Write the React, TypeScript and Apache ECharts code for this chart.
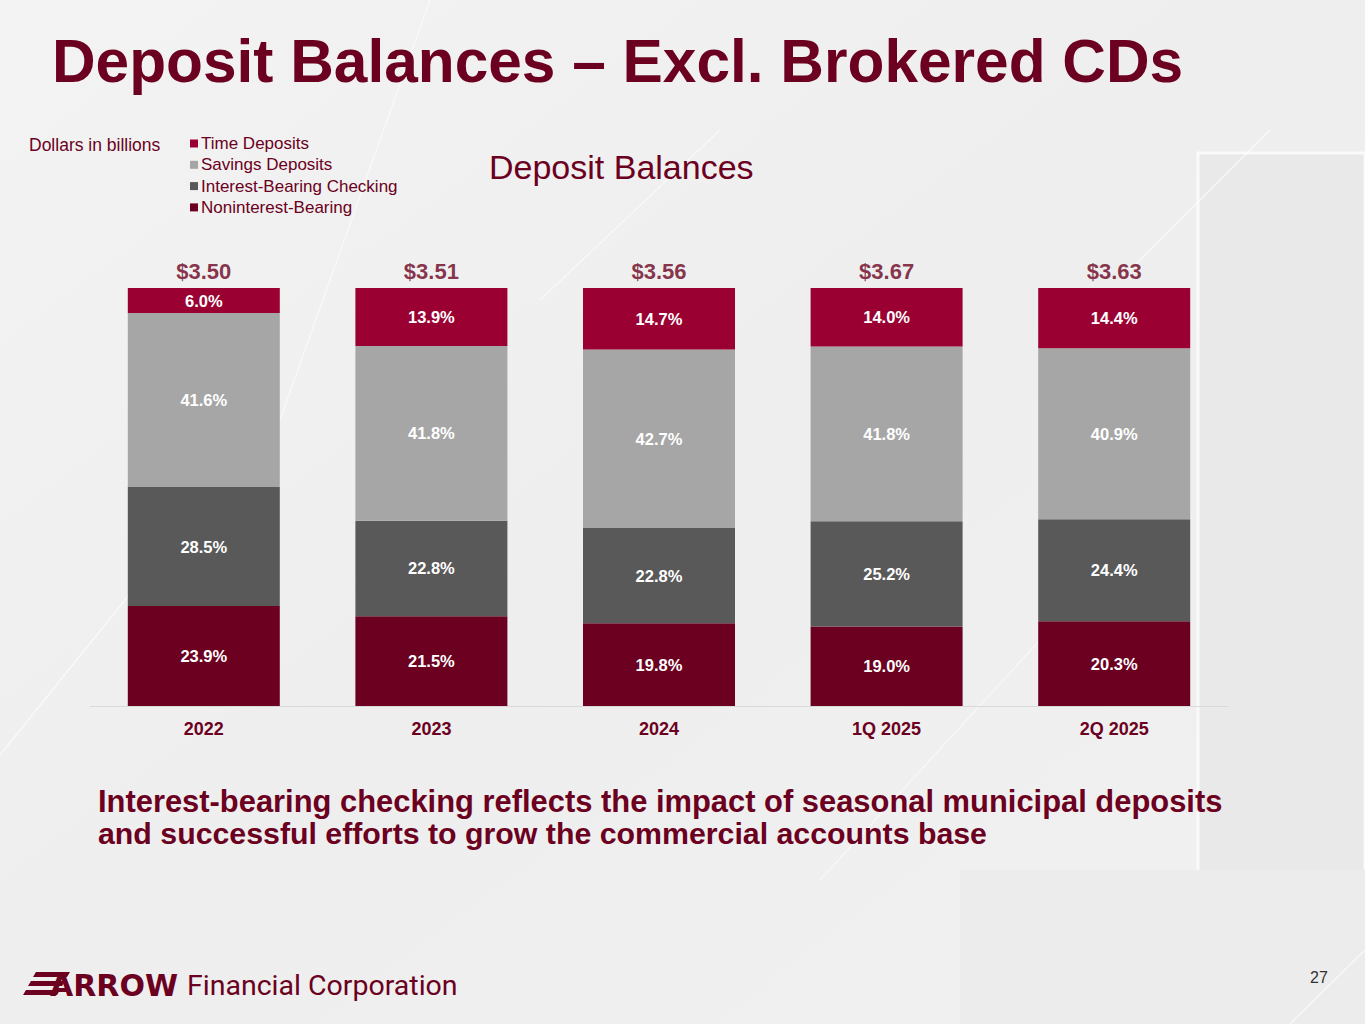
import React, { useEffect, useRef } from "react";
import * as echarts from "echarts";

const categories = ["2022", "2023", "2024", "1Q 2025", "2Q 2025"];
const totals = ["$3.50", "$3.51", "$3.56", "$3.67", "$3.63"];
const nonInterestBearing = [23.9, 21.5, 19.8, 19.0, 20.3];
const interestBearingChecking = [28.5, 22.8, 22.8, 25.2, 24.4];
const savingsDeposits = [41.6, 41.8, 42.7, 41.8, 40.9];
const timeDeposits = [6.0, 13.9, 14.7, 14.0, 14.4];
const legendNames = ["Time Deposits", "Savings Deposits", "Interest-Bearing Checking", "Noninterest-Bearing"];

const MAROON = "#6b0020";
const FONT = "'Liberation Sans', Arial, sans-serif";

export default function App() {
  const ref = useRef<HTMLDivElement>(null);
  useEffect(() => {
    if (!ref.current) return;
    const chart = echarts.init(ref.current, null, { renderer: "svg" });
    const barLabel = {
      show: true,
      position: "inside",
      color: "#ffffff",
      fontWeight: "bold",
      fontSize: 16.5,
      fontFamily: FONT,
      formatter: (p: any) => p.value.toFixed(1) + "%",
    };
    const mkBar = (name: string, data: number[], color: string) => ({
      name,
      type: "bar",
      stack: "total",
      barWidth: 152,
      data,
      itemStyle: { color },
      label: barLabel,
      emphasis: { disabled: true },
    });
    const streak = (x1: number, y1: number, x2: number, y2: number, op: number) => ({
      type: "line", silent: true, z: -8, shape: { x1, y1, x2, y2 },
      style: { stroke: "#ffffff", lineWidth: 1.5, opacity: op },
    });
    chart.setOption({
      animation: false,
      backgroundColor: "transparent",
      textStyle: { fontFamily: FONT },
      graphic: [
        // background
        { type: "rect", silent: true, z: -10, shape: { x: 0, y: 0, width: 1365, height: 1024 },
          style: { fill: new echarts.graphic.LinearGradient(0, 0, 1, 1, [
            { offset: 0, color: "#f3f3f3" }, { offset: 0.5, color: "#eeeeee" }, { offset: 1, color: "#f1f1f1" }]) } },
        { type: "rect", silent: true, z: -9, shape: { x: 1198, y: 153, width: 167, height: 720 },
          style: { fill: "#e9e9e9", stroke: "#fafafa", lineWidth: 3 } },
        { type: "polygon", silent: true, z: -9, shape: { points: [[960, 870], [1365, 870], [1365, 1024], [960, 1024]] },
          style: { fill: "#ececec" } },
        streak(0, 755, 270, 420, 0.6),
        streak(280, 420, 430, 0, 0.5),
        streak(540, 300, 720, 130, 0.5),
        streak(1130, 270, 1270, 130, 0.6),
        streak(820, 880, 1040, 640, 0.5),
        streak(1290, 1024, 1365, 950, 0.6),
        // title
        { type: "text", left: 52, top: 31, style: { text: "Deposit Balances \u2013 Excl. Brokered CDs", fill: MAROON,
          font: "bold 60.4px " + FONT } },
        { type: "text", left: 29, top: 136, style: { text: "Dollars in billions", fill: MAROON, font: "17.5px " + FONT } },
        { type: "text", left: 489, top: 150, style: { text: "Deposit Balances", fill: MAROON, font: "34px " + FONT } },
        // footnote text
        { type: "text", left: 98, top: 786, style: { text: "Interest-bearing checking reflects the impact of seasonal municipal deposits",
          fill: MAROON, font: "bold 30.9px " + FONT } },
        { type: "text", left: 98, top: 818, style: { text: "and successful efforts to grow the commercial accounts base",
          fill: MAROON, font: "bold 30.3px " + FONT } },
        // logo
        { type: "polygon", shape: { points: [[36, 972], [70, 972], [67, 977], [33, 977]] }, style: { fill: MAROON } },
        { type: "polygon", shape: { points: [[31, 981], [65, 981], [62, 986], [28, 986]] }, style: { fill: MAROON } },
        { type: "polygon", shape: { points: [[26, 990], [60, 990], [57, 995], [23, 995]] }, style: { fill: MAROON } },
        { type: "text", left: 50, top: 970, style: { text: "ARROW", fill: MAROON, font: "900 30px 'DejaVu Sans', " + FONT } },
        { type: "text", left: 187, top: 971, style: { text: "Financial Corporation", fill: MAROON, font: "28.5px Roboto, " + FONT } },
        // page number
        { type: "text", left: 1310, top: 969, style: { text: "27", fill: "#333333", font: "16px " + FONT } },
      ],
      legend: {
        data: legendNames,
        orient: "vertical",
        left: 185,
        top: 130,
        itemWidth: 8,
        itemHeight: 8,
        itemGap: 4.3,
        icon: "rect",
        textStyle: { color: MAROON, fontSize: 17, fontFamily: FONT, lineHeight: 17, padding: [0, 0, 0, -2] },
        selectedMode: false,
      },
      grid: { left: 90, right: 137, top: 288, bottom: 318, containLabel: false },
      xAxis: {
        type: "category",
        data: categories,
        axisLine: { lineStyle: { color: "#d9d9d9", width: 1 } },
        axisTick: { show: false },
        axisLabel: { color: MAROON, fontWeight: "bold", fontSize: 18, fontFamily: FONT, margin: 14 },
      },
      yAxis: { type: "value", min: 0, max: 100, show: false, splitLine: { show: false } },
      series: [
        mkBar("Noninterest-Bearing", nonInterestBearing, "#6b0020"),
        mkBar("Interest-Bearing Checking", interestBearingChecking, "#595959"),
        mkBar("Savings Deposits", savingsDeposits, "#a6a6a6"),
        mkBar("Time Deposits", timeDeposits, "#9b0033"),
        {
          name: "Totals",
          type: "scatter",
          data: categories.map(() => 100),
          symbolSize: 1,
          itemStyle: { color: "rgba(0,0,0,0)" },
          label: {
            show: true,
            position: "top",
            distance: 5,
            color: MAROON,
            fontWeight: "bold",
            fontSize: 22,
            fontFamily: FONT,
            formatter: (p: any) => totals[p.dataIndex],
          },
          emphasis: { disabled: true },
        },
      ],
    });
    return () => chart.dispose();
  }, []);
  return <div ref={ref} style={{ position: "absolute", left: 0, top: 0, width: 1365, height: 1024 }} />;
}
